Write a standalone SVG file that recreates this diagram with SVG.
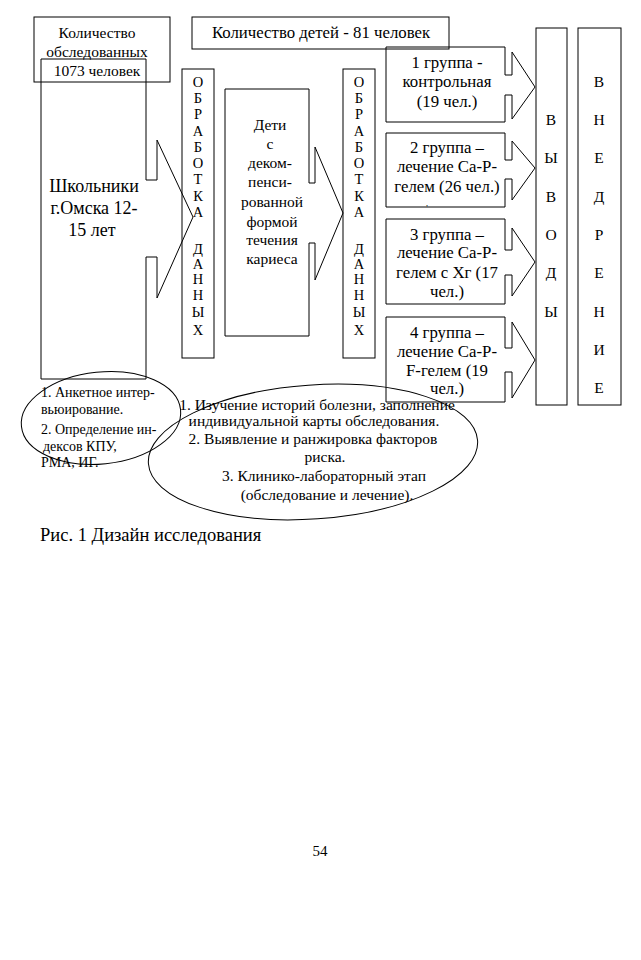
<svg xmlns="http://www.w3.org/2000/svg" width="641" height="960" viewBox="0 0 641 960">
<style>
.s{fill:none;stroke:#000;stroke-width:1}
.t{font-family:"Liberation Serif","Times New Roman",serif;fill:#000}
.c{text-anchor:middle}
.v{font-family:"Liberation Serif","Times New Roman",serif;fill:#000;text-anchor:middle}
</style>
<rect width="641" height="960" fill="#fff"/>
<g id="total">
<rect class="s" x="34" y="17" width="136" height="65"/>
<g class="t c" style="font-size:15.5px">
<text x="97" y="38">Количество</text>
<text x="97" y="57">обследованных</text>
<text x="97" y="76">1073 человек</text>
</g>
</g>
<g id="pupils">
<path class="s" d="M41,59 H146 V180 H157 V140 L193,217 L157,298 V257 H146 V379 H41 Z"/>
<g class="t c" style="font-size:18px">
<text x="94" y="192">Школьники</text>
<text x="94" y="214">г.Омска 12-</text>
<text x="92" y="236">15 лет</text>
</g>
</g>
<g id="children">
<rect class="s" x="192" y="17" width="257" height="32"/>
<text class="t c" x="321" y="38" style="font-size:16.8px">Количество детей - 81 человек</text>
</g>
<g id="proc1">
<rect class="s" x="182" y="69" width="32" height="289"/>
<g class="v" style="font-size:14.5px">
<text x="198" y="87">О</text><text x="198" y="103">Б</text><text x="198" y="119">Р</text><text x="198" y="136">А</text><text x="198" y="152">Б</text><text x="198" y="168">О</text><text x="198" y="184">Т</text><text x="198" y="201">К</text><text x="198" y="217">А</text>
<text x="198" y="254">Д</text><text x="198" y="269">А</text><text x="198" y="284">Н</text><text x="198" y="300">Н</text><text x="198" y="317">Ы</text><text x="198" y="335">Х</text>
</g>
</g>
<g id="decomp">
<path class="s" d="M225,89 H309 V183 H315 V147 L343,213 L315,280 V243 H309 V336 H225 Z"/>
<g class="t c" style="font-size:15.5px">
<text x="270" y="130">Дети</text><text x="270" y="149">с</text><text x="270" y="168">деком-</text><text x="270" y="187">пенси-</text><text x="272" y="207">рованной</text><text x="272" y="227">формой</text><text x="272" y="245">течения</text><text x="272" y="264">кариеса</text>
</g>
</g>
<g id="proc2">
<rect class="s" x="343" y="69" width="32" height="289"/>
<g class="v" style="font-size:14.5px">
<text x="359" y="87">О</text><text x="359" y="103">Б</text><text x="359" y="119">Р</text><text x="359" y="136">А</text><text x="359" y="152">Б</text><text x="359" y="168">О</text><text x="359" y="184">Т</text><text x="359" y="201">К</text><text x="359" y="217">А</text>
<text x="359" y="254">Д</text><text x="359" y="269">А</text><text x="359" y="284">Н</text><text x="359" y="300">Н</text><text x="359" y="317">Ы</text><text x="359" y="335">Х</text>
</g>
</g>
<g id="group1">
<path class="s" d="M386,47 H505 V75 H512 V52 L535,87 L512,119 V95 H505 V122 H386 Z"/>
<g class="t c" style="font-size:16.8px"><text x="447" y="68">1 группа  -</text><text x="447" y="87">контрольная</text><text x="447" y="107">(19 чел.)</text></g>
</g>
<g id="group2">
<path class="s" d="M386,133 H505 V160 H512 V141 L535,168 L512,200 V179 H505 V207 H386 Z"/>
<g class="t c" style="font-size:16.8px"><text x="447" y="153">2 группа –</text><text x="447" y="172">лечение Ca-P-</text><text x="447" y="192">гелем (26 чел.)</text></g>
<text class="t" x="426" y="206" style="font-size:8px">,</text>
</g>
<g id="group3">
<path class="s" d="M386,219 H505 V250 H512 V228 L535,262 L512,296 V275 H505 V304 H386 Z"/>
<g class="t c" style="font-size:16.8px"><text x="447" y="240">3 группа –</text><text x="447" y="258">лечение Ca-P-</text><text x="447" y="278">гелем с Хг (17</text><text x="447" y="297">чел.)</text></g>
</g>
<g id="group4">
<path class="s" d="M386,317 H505 V348 H512 V322 L535,360 L512,398 V372 H505 V402 H386 Z"/>
<g class="t c" style="font-size:16.8px"><text x="447" y="338">4 группа –</text><text x="447" y="357">лечение Ca-P-</text><text x="447" y="376">F-гелем (19</text><text x="447" y="394">чел.)</text></g>
</g>
<g id="conclusions">
<rect class="s" x="536" y="28" width="31" height="377"/>
<g class="v" style="font-size:15.5px"><text x="551" y="125">В</text><text x="551" y="163">Ы</text><text x="551" y="202">В</text><text x="551" y="240">О</text><text x="551" y="278">Д</text><text x="551" y="317">Ы</text></g>
</g>
<g id="implementation">
<rect class="s" x="578" y="28" width="43" height="377"/>
<g class="v" style="font-size:15.5px"><text x="599" y="87">В</text><text x="599" y="125">Н</text><text x="599" y="163">Е</text><text x="599" y="202">Д</text><text x="599" y="240">Р</text><text x="599" y="278">Е</text><text x="599" y="317">Н</text><text x="599" y="355">И</text><text x="599" y="393">Е</text></g>
</g>
<g id="ellipse1">
<ellipse class="s" cx="101" cy="418" rx="80" ry="46" transform="rotate(-6 101 418)"/>
<g class="t" style="font-size:14px"><text x="41" y="397">1. Анкетное интер-</text><text x="41" y="414">вьюирование.</text><text x="41" y="434">2. Определение ин-</text><text x="43" y="451">дексов КПУ,</text><text x="41" y="467">РМА, ИГ.</text></g>
</g>
<g id="ellipse2">
<ellipse class="s" cx="313" cy="452" rx="165" ry="67" transform="rotate(-4 313 452)"/>
<g class="t c" style="font-size:15.5px"><text x="317" y="410">1. Изучение историй болезни, заполнение</text><text x="314" y="426">индивидуальной карты обследования.</text><text x="313" y="444">2. Выявление и ранжировка факторов</text><text x="325" y="462">риска.</text><text x="324" y="481">3. Клинико-лабораторный этап</text><text x="327" y="500">(обследование и лечение).</text></g>
</g>
<text class="t" x="40" y="541" style="font-size:18.5px">Рис. 1 Дизайн исследования</text>
<text class="t c" x="320" y="856" style="font-size:15px">54</text>
<g id="connectors"/>
</svg>
